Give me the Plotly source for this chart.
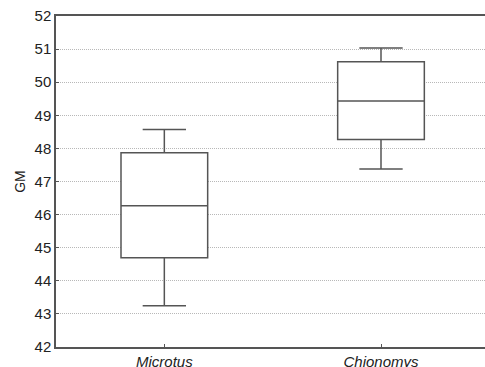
import plotly.graph_objects as go

categories = ["Microtus", "Chionomys"]
lower_whisker = [43.25, 47.38]
q1 = [44.70, 48.27]
median = [46.27, 49.43]
q3 = [47.87, 50.62]
upper_whisker = [48.57, 51.03]
y_ticks = list(range(42, 53))

fig = go.Figure()
fig.add_trace(go.Box(
    x=categories,
    q1=q1, median=median, q3=q3,
    lowerfence=lower_whisker, upperfence=upper_whisker,
    fillcolor="white",
    line=dict(color="#555555", width=1.5),
    whiskerwidth=0.5,
    width=0.4,
    boxpoints=False,
    showlegend=False,
    hoverinfo="y",
))

fig.update_layout(
    width=485, height=367,
    margin=dict(l=56, r=0, t=16, b=20),
    paper_bgcolor="white", plot_bgcolor="white",
    font=dict(family="Liberation Sans, Arial, sans-serif", color="#222222", size=15),
    xaxis=dict(
        range=[-0.5, 1.48],
        tickvals=[0, 1],
        ticktext=["<i>Microtus</i>", "<i>Chionomys</i>"],
        showline=True, linecolor="#555555", linewidth=1.5, mirror=True,
        ticks="inside", ticklen=3, tickcolor="#555555",
        showgrid=False, zeroline=False,
        tickfont=dict(size=15),
        automargin=False,
    ),
    yaxis=dict(
        range=[42, 52],
        tickvals=y_ticks,
        showline=True, linecolor="#555555", linewidth=1.5,
        ticks="inside", ticklen=3, tickcolor="#555555",
        showgrid=True, gridcolor="#b8b8b8", griddash="1px,1px", gridwidth=1,
        zeroline=False,
        title=dict(text="GM", font=dict(size=14), standoff=6),
        tickfont=dict(size=15),
        automargin=False,
    ),
)

fig.write_html(
    "out.html",
    config={"displayModeBar": False},
    post_script="document.body.style.margin='0';document.body.style.overflow='hidden';",
)
